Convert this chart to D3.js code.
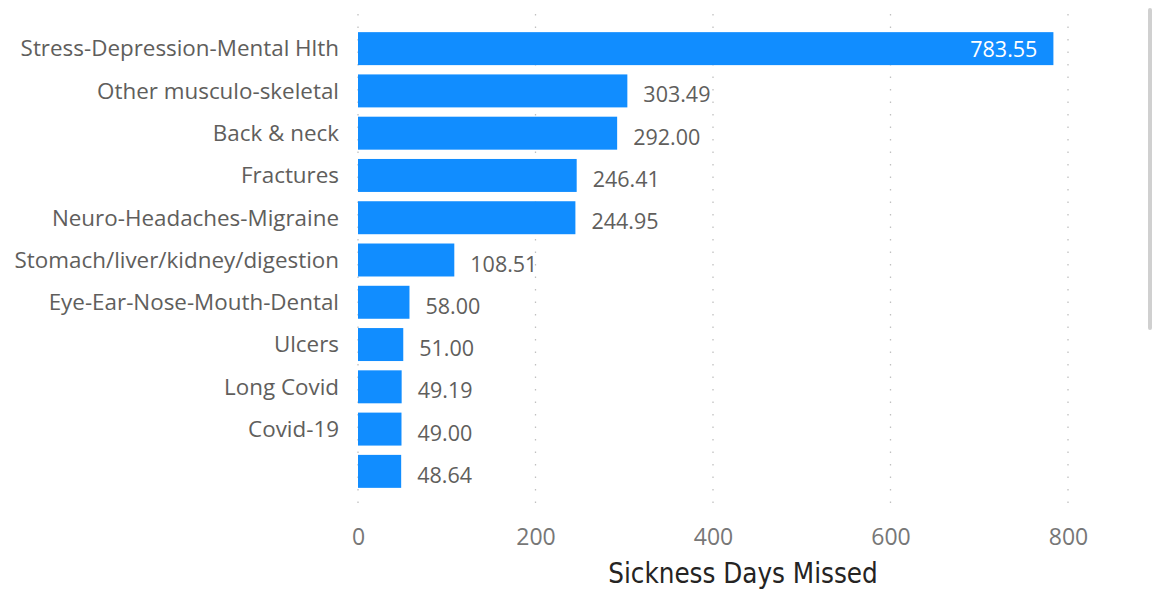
<!DOCTYPE html>
<html><head><meta charset="utf-8">
<script src="https://cdn.jsdelivr.net/npm/d3@7"></script>
<style>body{margin:0;background:#fff;overflow:hidden}svg{display:block}</style>
</head><body><svg id="c" width="1152" height="591"></svg>
<script>
const categories = ["Stress-Depression-Mental Hlth","Other musculo-skeletal","Back & neck","Fractures","Neuro-Headaches-Migraine","Stomach/liver/kidney/digestion","Eye-Ear-Nose-Mouth-Dental","Ulcers","Long Covid","Covid-19",""];
const values = [783.55,303.49,292.00,246.41,244.95,108.51,58.00,51.00,49.19,49.00,48.64];
const xTicks = [0,200,400,600,800];
const axisTitle = "Sickness Days Missed";

const svg = d3.select("#c");
const x = d3.scaleLinear().domain([0,800]).range([358,1068]);
const y = d3.scaleBand().domain(d3.range(categories.length)).range([27.5,492.5]).paddingInner(0.22).paddingOuter(0.11);

// gridlines
svg.append("g").selectAll("line").data(xTicks).join("line")
  .attr("x1",d=>x(d)).attr("x2",d=>x(d)).attr("y1",14).attr("y2",512)
  .attr("stroke","#c0c0c0").attr("stroke-width",1.3).attr("stroke-dasharray","1.5,11");

// bars
svg.append("g").selectAll("rect").data(values).join("rect")
  .attr("x",x(0)).attr("y",(d,i)=>y(i)).attr("width",d=>x(d)-x(0)).attr("height",y.bandwidth())
  .attr("fill","#118DFF");

// category labels
svg.append("g").selectAll("text").data(categories).join("text")
  .attr("x",339).attr("y",(d,i)=>y(i)+y.bandwidth()/2).attr("dy","0.35em")
  .attr("text-anchor","end").attr("fill","#605E5C")
  .style("font-family","'Open Sans', sans-serif").style("font-size","22.4px")
  .text(d=>d);

// value labels
const fmt = d3.format(".2f");
const inside = d => x(d)-x(0) > 600;
svg.append("g").selectAll("text").data(values).join("text")
  .attr("x",d=>inside(d) ? x(d)-16 : x(d)+16)
  .attr("y",(d,i)=>y(i)+y.bandwidth()/2+(inside(d)?1:4)).attr("dy","0.35em")
  .attr("text-anchor",d=>inside(d)?"end":"start")
  .attr("fill",d=>inside(d)?"#ffffff":"#605E5C")
  .style("font-family","'Open Sans', sans-serif").style("font-size","21.5px")
  .text(d=>fmt(d));

// x axis
const ax = svg.append("g").attr("transform","translate(0,529)")
  .call(d3.axisBottom(x).tickValues(xTicks).tickSize(0).tickPadding(0));
ax.select(".domain").remove();
ax.selectAll("text").attr("fill","#777").attr("dy","0.71em")
  .style("font-family","'Open Sans', sans-serif").style("font-size","23px");

svg.append("text").attr("x",743).attr("y",583).attr("text-anchor","middle")
  .attr("fill","#252423").style("font-family","'DejaVu Sans Condensed', 'DejaVu Sans', sans-serif")
  .style("font-size","27.5px").text(axisTitle);

// scrollbar hint
svg.append("rect").attr("x",1148).attr("y",8).attr("width",4).attr("height",322).attr("rx",2).attr("fill","#d0d0d0");
</script></body></html>
